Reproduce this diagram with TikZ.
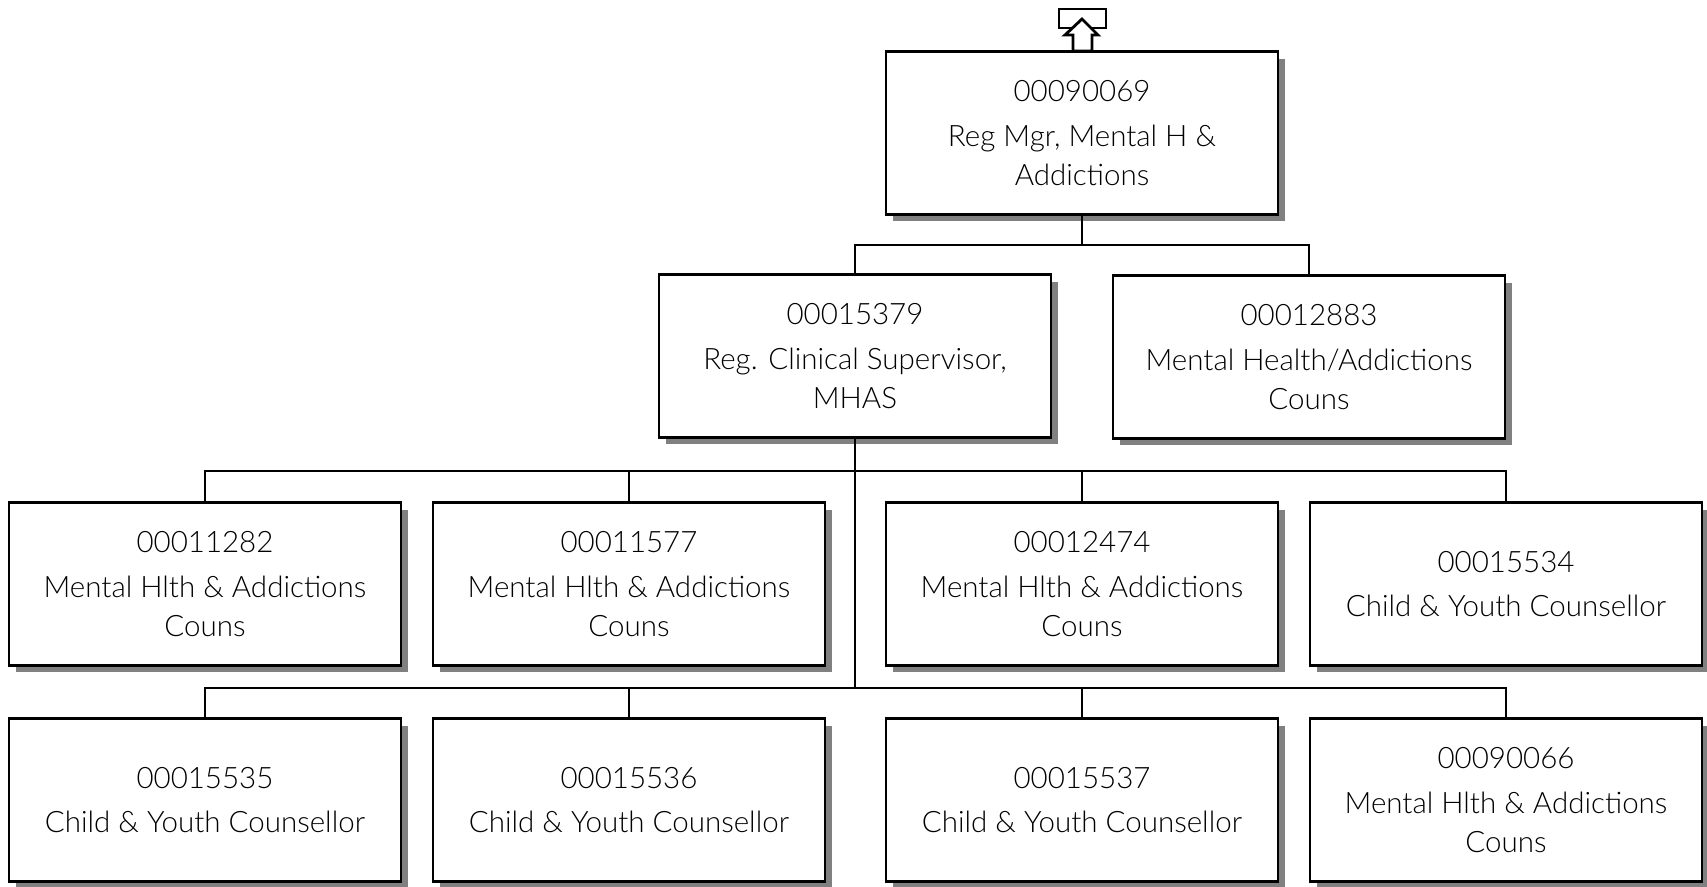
\documentclass[tikz,border=0pt]{standalone}
\usepackage{fontspec}
\setmainfont{Lato}[UprightFont=* Light]
\usetikzlibrary{positioning, shadows}

\begin{document}
\begin{tikzpicture}[
        x=0.02cm, y=-0.02cm,
        font=\fontsize{16.8}{22.5}\selectfont,
        posbox/.style={
            rectangle,
            draw=black,
            fill=white,
            line width=1.2pt,
            align=center,
            minimum width=7.84cm,
            minimum height=3.26cm,
            inner sep=2pt,
            drop shadow={shadow xshift=0.14cm, shadow yshift=-0.14cm, fill=black!50, opacity=1}
        },
        link/.style={line width=1.2pt, draw=black}
    ]

    \useasboundingbox (0,0) rectangle (1707,886);

    % Top position
    \node[posbox] (mgr) at (1082,133) {00090069\\[3pt]Reg Mgr, Mental H \&\\Addictions};

    % Reports to (up arrow)
    \draw[line width=1.6pt, fill=white] (1059,9) rectangle (1106,28);
    \draw[line width=1.6pt, fill=white, line join=miter]
        (1082,19) -- (1098,35) -- (1092,35) -- (1092,51) -- (1073,51) -- (1073,35) -- (1065,35) -- cycle;

    % Second level
    \node[posbox] (supv) at (855,356) {00015379\\[3pt]Reg. Clinical Supervisor,\\MHAS};
    \node[posbox] (mhac) at (1309,357) {00012883\\[3pt]Mental Health/Addictions\\Couns};

    % Third level
    \node[posbox] (c11282) at (205,584) {00011282\\[3pt]Mental Hlth \& Addictions\\Couns};
    \node[posbox] (c11577) at (629,584) {00011577\\[3pt]Mental Hlth \& Addictions\\Couns};
    \node[posbox] (c12474) at (1082,584) {00012474\\[3pt]Mental Hlth \& Addictions\\Couns};
    \node[posbox] (c15534) at (1506,584) {00015534\\[3pt]Child \& Youth Counsellor};

    % Fourth level
    \node[posbox] (c15535) at (205,800) {00015535\\[3pt]Child \& Youth Counsellor};
    \node[posbox] (c15536) at (629,800) {00015536\\[3pt]Child \& Youth Counsellor};
    \node[posbox] (c15537) at (1082,800) {00015537\\[3pt]Child \& Youth Counsellor};
    \node[posbox] (c90066) at (1506,800) {00090066\\[3pt]Mental Hlth \& Addictions\\Couns};

    % Connectors
    \coordinate (j0) at (1082,245);
    \coordinate (j1) at (855,471);
    \coordinate (j2) at (855,688);

    \draw[link] (mgr.south) -- (j0);
    \draw[link] (supv.north) |- (j0) -| (mhac.north);

    \draw[link] (supv.south) -- (j2);
    \draw[link] (c11282.north) |- (j1) -| (c15534.north);
    \draw[link] (c11577.north) -- (c11577.north |- j1);
    \draw[link] (c12474.north) -- (c12474.north |- j1);
    \draw[link] (c15535.north) |- (j2) -| (c90066.north);
    \draw[link] (c15536.north) -- (c15536.north |- j2);
    \draw[link] (c15537.north) -- (c15537.north |- j2);

\end{tikzpicture}
\end{document}
